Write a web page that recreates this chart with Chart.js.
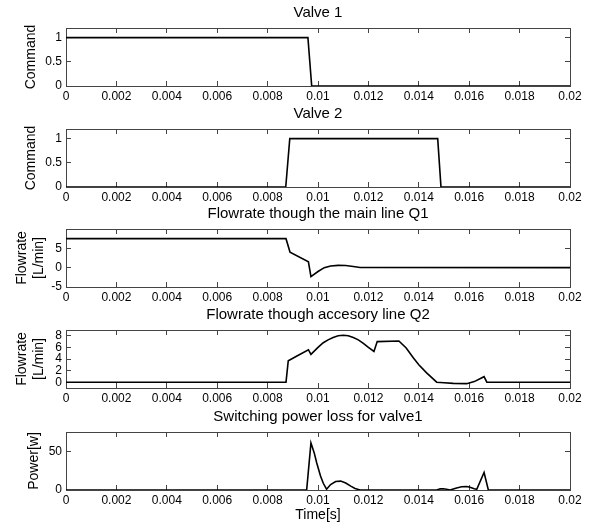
<!DOCTYPE html>
<html>
<head>
<meta charset="utf-8">
<script src="https://cdn.jsdelivr.net/npm/chart.js@4"></script>
<style>
  html, body { margin: 0; padding: 0; background: #fff; }
  #wrap { position: relative; width: 593px; height: 528px; overflow: hidden; }
  #wrap canvas { position: absolute; left: 0; }
</style>
</head>
<body>
<div id="wrap">
  <canvas id="c1" width="593" height="110" style="top:0px"></canvas>
  <canvas id="c2" width="593" height="110" style="top:101px"></canvas>
  <canvas id="c3" width="593" height="110" style="top:201px"></canvas>
  <canvas id="c4" width="593" height="110" style="top:302px"></canvas>
  <canvas id="c5" width="593" height="124" style="top:404px"></canvas>
</div>
<script>
// time axis (s)
const X_TICKS = [0, 0.002, 0.004, 0.006, 0.008, 0.01, 0.012, 0.014, 0.016, 0.018, 0.02];

// Valve 1 command
const V1_T = [0, 0.0096, 0.00975, 0.02];
const V1_Y = [1, 1, 0, 0];

// Valve 2 command
const V2_T = [0, 0.00872, 0.00888, 0.01475, 0.01488, 0.02];
const V2_Y = [0, 0, 1, 1, 0, 0];

// Q1 main line flowrate (L/min)
const Q1_T = [0, 0.00873, 0.00889, 0.00962, 0.00972, 0.0100, 0.01025, 0.0105, 0.0108, 0.0111, 0.0114, 0.01167, 0.02];
const Q1_Y = [7.5, 7.5, 4.0, 1.5, -2.3, -1.0, 0.0, 0.45, 0.6, 0.55, 0.3, 0.05, 0];

// Q2 accessory line flowrate (L/min)
const Q2_T = [0, 0.00873, 0.00882, 0.0092, 0.00962, 0.00972, 0.0100, 0.01021, 0.0104, 0.0106, 0.0108, 0.0110,
              0.0112, 0.0114, 0.0116, 0.0118, 0.0120, 0.01222, 0.01235, 0.01321, 0.0135, 0.01378, 0.0140, 0.01431,
              0.01471, 0.0150, 0.01537, 0.0159, 0.0162, 0.01659, 0.0167, 0.02];
const Q2_Y = [0, 0, 3.7, 4.6, 5.6, 4.8, 6.0, 6.8, 7.3, 7.7, 8.0, 8.1,
              8.0, 7.7, 7.3, 6.7, 6.0, 5.3, 7.0, 7.1, 5.9, 4.2, 3.0, 1.6,
              0, -0.1, -0.2, -0.25, 0.1, 0.95, 0, 0];

// switching power loss valve 1 (W)
const P_T = [0, 0.00955, 0.00972, 0.00985, 0.00995, 0.0101, 0.01021, 0.01034, 0.0105, 0.0107, 0.0109, 0.0111,
             0.0113, 0.01147, 0.01167, 0.01471, 0.01485, 0.01497, 0.0151, 0.01524, 0.0155, 0.0157, 0.0159,
             0.01603, 0.0162, 0.0163, 0.01659, 0.01676, 0.02];
const P_Y = [0, 0, 61, 48, 35, 18, 8.7, 1, 7, 11, 11.5, 9,
             5, 2, 0, 0, 1.5, 1.7, 1, 0, 2.5, 4.3, 4.5,
             3.5, 1.5, 0.9, 22.6, 0, 0];

// y tick labels per panel
const CMD_TICKS = [0, 0.5, 1];
const Q1_TICKS = [-5, 0, 5];
const Q2_TICKS = [0, 2, 4, 6, 8];
const P_TICKS = [0, 50];

const FONT = "'Liberation Sans', Arial, sans-serif";
const PLOT_LEFT = 66, PLOT_RIGHT = 570;
const FRAME = '#444';
const TICK_IN = -5;   // negative tick length -> ticks point into the plot, matlab style

// inward tick marks + frame edge, no grid on the plot area
const edgeGrid = { display: true, drawOnChartArea: false, drawTicks: true, tickLength: TICK_IN, color: FRAME, lineWidth: 1 };
const edgeBorder = { display: true, color: FRAME, width: 1 };

function panel(id, title, yTitle, yTitlePad, ts, vs, yMin, yMax, yTicks, xAxisH, xTitle) {
  const setX = s => { s.ticks = X_TICKS.map(v => ({ value: v })); };
  const setY = s => { s.ticks = yTicks.map(v => ({ value: v })); };
  const tickFont = { family: FONT, size: 12 };
  return new Chart(document.getElementById(id), {
    type: 'line',
    data: {
      datasets: [{
        data: ts.map((t, i) => ({ x: t, y: vs[i] })),
        borderColor: '#000', borderWidth: 1.6, pointRadius: 0, tension: 0, fill: false
      }]
    },
    options: {
      responsive: false, animation: false,
      layout: { padding: { left: 0, right: 593 - PLOT_RIGHT, top: 0, bottom: 0 } },
      plugins: {
        legend: { display: false }, tooltip: { enabled: false },
        title: {
          display: true, text: title, fullSize: false, color: '#000',
          font: { family: FONT, size: 15, weight: 'normal', lineHeight: 1.2 },
          padding: { top: 4, bottom: 6 }
        }
      },
      scales: {
        x: {
          type: 'linear', position: 'bottom', min: 0, max: 0.02,
          grid: edgeGrid, border: edgeBorder,
          afterBuildTicks: setX,
          afterFit: s => { s.height = xAxisH; },
          ticks: { color: '#000', font: tickFont, padding: 3 - TICK_IN, maxRotation: 0, autoSkip: false,
                   callback: v => String(+v.toFixed(4)) },
          title: xTitle ? { display: true, text: xTitle, color: '#000', font: { family: FONT, size: 14, lineHeight: 1.2 },
                            padding: { top: 0, bottom: 4 } } : { display: false }
        },
        x2: {
          type: 'linear', axis: 'x', position: 'top', min: 0, max: 0.02,
          grid: edgeGrid, border: edgeBorder,
          afterBuildTicks: setX,
          afterFit: s => { s.height = 0; },
          ticks: { display: false }
        },
        y: {
          type: 'linear', position: 'left', min: yMin, max: yMax,
          grid: edgeGrid, border: edgeBorder,
          afterBuildTicks: setY,
          afterFit: s => { s.width = PLOT_LEFT; },
          ticks: { color: '#000', font: tickFont, padding: 4 - TICK_IN, autoSkip: false,
                   callback: v => String(v) },
          title: { display: true, text: yTitle, color: '#000', font: { family: FONT, size: 14, lineHeight: 1.2 },
                   padding: { top: yTitlePad, bottom: 0 } }
        },
        y2: {
          type: 'linear', axis: 'y', position: 'right', min: yMin, max: yMax,
          grid: edgeGrid, border: edgeBorder,
          afterBuildTicks: setY,
          afterFit: s => { s.width = 0; },
          ticks: { display: false }
        }
      }
    }
  });
}

panel('c1', 'Valve 1', 'Command', 23, V1_T, V1_Y, 0, 1.2, CMD_TICKS, 24);
panel('c2', 'Valve 2', 'Command', 23, V2_T, V2_Y, 0, 1.2, CMD_TICKS, 24);
panel('c3', 'Flowrate though the main line Q1', ['Flowrate', '[L/min]'], 14, Q1_T, Q1_Y, -5, 10, Q1_TICKS, 24);
panel('c4', 'Flowrate though accesory line Q2', ['Flowrate', '[L/min]'], 14, Q2_T, Q2_Y, -1, 9, Q2_TICKS, 24);
panel('c5', 'Switching power loss for valve1', 'Power[w]', 26, P_T, P_Y, 0, 75, P_TICKS, 38, 'Time[s]');
</script>
</body>
</html>
